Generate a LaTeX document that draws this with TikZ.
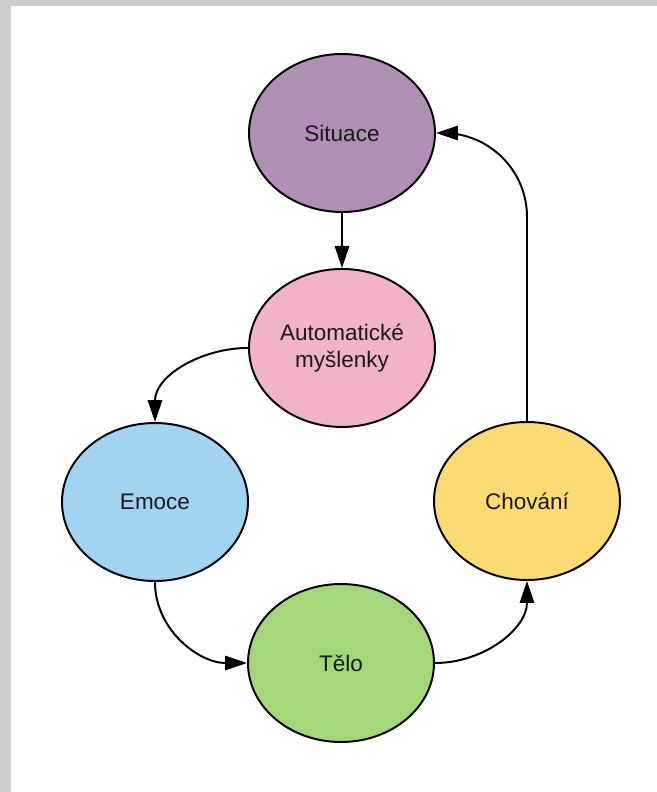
\documentclass[tikz,border=0pt]{standalone}
\usepackage{fontspec}
\setmainfont{Liberation Sans}
\usepackage{tikz}
\usetikzlibrary{shapes.geometric,arrows.meta,positioning}

\definecolor{sitfill}{HTML}{B08FB5}
\definecolor{autofill}{HTML}{F2B3C9}
\definecolor{emofill}{HTML}{A3D3F2}
\definecolor{telofill}{HTML}{A3D77A}
\definecolor{chovfill}{HTML}{FEDA75}
\definecolor{frame}{HTML}{CCCCCC}

\begin{document}
\begin{tikzpicture}[
  st/.style={draw, ellipse, line width=1.4pt, align=center, inner sep=0pt,
             font=\fontsize{16}{19}\selectfont, text=black!90,
             minimum width=46.5mm, minimum height=39.5mm},
  arr/.style={-{Triangle[length=5.5mm, width=3.6mm]}, line width=1.4pt}
]
\useasboundingbox (0,0) rectangle (16.425,-19.8);
\fill[white] (0,0) rectangle (16.425,-19.8);
\fill[frame] (0,0) rectangle (16.425,-0.15);
\fill[frame] (0,0) rectangle (0.275,-19.8);

\node[st, fill=sitfill] (sit) at (8.55,-3.325) {Situace};
\node[st, fill=autofill, below=13.75mm of sit] (auto) {Automatické\\myšlenky};
\node[st, fill=emofill] (emo) at (3.875,-12.55) {Emoce};
\node[st, fill=telofill] (telo) at (8.525,-16.575) {Tělo};
\node[st, fill=chovfill] (chov) at (13.175,-12.525) {Chování};

\draw[arr] (sit)--(auto);
\draw[arr] (auto.west) to[out=180,in=90] (emo.north);
\draw[arr] (emo.south) to[out=-90,in=180] (telo.west);
\draw[arr] (telo.east) to[out=0,in=-90] (chov.south);
\draw[arr, rounded corners=21mm] (chov.north) |- (sit.east);
\end{tikzpicture}
\end{document}
